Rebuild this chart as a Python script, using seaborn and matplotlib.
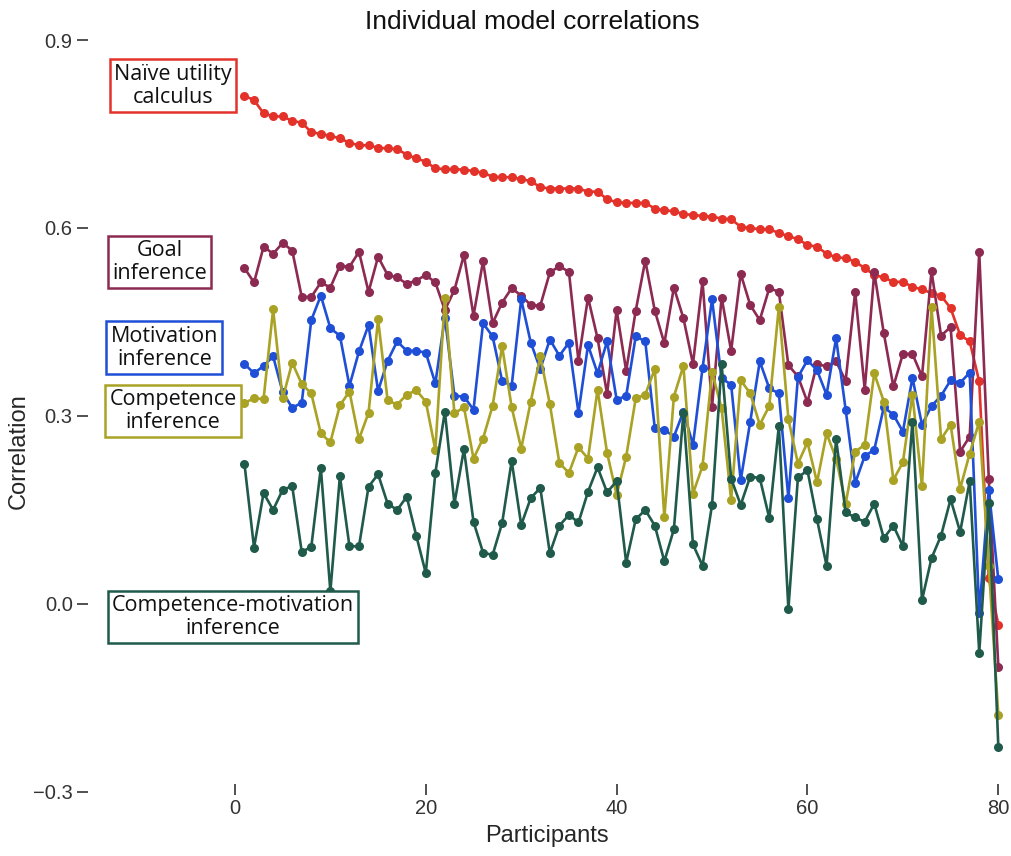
import numpy as np
import pandas as pd
import matplotlib
matplotlib.use("Agg")
import matplotlib.pyplot as plt
import seaborn as sns

participants = list(range(1, 81))

naive_utility = [0.811, 0.804, 0.783, 0.778, 0.778, 0.771, 0.768, 0.753, 0.750, 0.747,
                 0.743, 0.736, 0.732, 0.732, 0.728, 0.727, 0.726, 0.717, 0.711, 0.706,
                 0.695, 0.694, 0.694, 0.693, 0.691, 0.688, 0.682, 0.681, 0.681, 0.678,
                 0.675, 0.665, 0.663, 0.663, 0.663, 0.663, 0.658, 0.658, 0.646, 0.641,
                 0.640, 0.640, 0.640, 0.631, 0.628, 0.627, 0.622, 0.621, 0.619, 0.618,
                 0.615, 0.614, 0.602, 0.600, 0.598, 0.598, 0.592, 0.587, 0.582, 0.573,
                 0.570, 0.559, 0.553, 0.552, 0.546, 0.536, 0.525, 0.521, 0.514, 0.514,
                 0.506, 0.502, 0.496, 0.492, 0.472, 0.429, 0.419, 0.355, 0.041, -0.033]

goal_inference = [0.536, 0.513, 0.570, 0.559, 0.576, 0.564, 0.490, 0.490, 0.513, 0.505,
                  0.540, 0.538, 0.562, 0.498, 0.554, 0.525, 0.521, 0.511, 0.516, 0.525,
                  0.513, 0.469, 0.501, 0.557, 0.460, 0.547, 0.448, 0.481, 0.504, 0.492,
                  0.477, 0.476, 0.529, 0.539, 0.530, 0.388, 0.489, 0.424, 0.335, 0.469,
                  0.372, 0.468, 0.548, 0.468, 0.416, 0.505, 0.456, 0.383, 0.515, 0.315,
                  0.489, 0.404, 0.527, 0.477, 0.453, 0.504, 0.498, 0.381, 0.363, 0.322,
                  0.383, 0.379, 0.387, 0.356, 0.498, 0.342, 0.529, 0.432, 0.347, 0.399,
                  0.399, 0.363, 0.531, 0.428, 0.442, 0.243, 0.267, 0.561, 0.200, -0.100]

motivation_inference = [0.383, 0.368, 0.380, 0.395, 0.338, 0.313, 0.321, 0.453, 0.492, 0.440,
                        0.428, 0.348, 0.403, 0.445, 0.340, 0.388, 0.419, 0.404, 0.404, 0.401,
                        0.352, 0.457, 0.332, 0.331, 0.310, 0.448, 0.427, 0.356, 0.348, 0.486,
                        0.417, 0.375, 0.422, 0.396, 0.417, 0.305, 0.413, 0.368, 0.419, 0.326,
                        0.332, 0.427, 0.419, 0.280, 0.278, 0.267, 0.307, 0.254, 0.376, 0.486,
                        0.360, 0.350, 0.197, 0.291, 0.387, 0.344, 0.336, 0.169, 0.362, 0.389,
                        0.373, 0.334, 0.424, 0.310, 0.193, 0.236, 0.246, 0.314, 0.302, 0.275,
                        0.361, 0.286, 0.316, 0.332, 0.357, 0.353, 0.369, -0.015, 0.182, 0.039]

competence_inference = [0.321, 0.328, 0.327, 0.470, 0.328, 0.385, 0.351, 0.336, 0.272, 0.258,
                        0.317, 0.339, 0.263, 0.305, 0.454, 0.325, 0.318, 0.334, 0.341, 0.323,
                        0.246, 0.488, 0.304, 0.314, 0.232, 0.264, 0.316, 0.411, 0.314, 0.248,
                        0.323, 0.395, 0.319, 0.225, 0.209, 0.250, 0.232, 0.342, 0.241, 0.174,
                        0.235, 0.328, 0.334, 0.375, 0.138, 0.331, 0.380, 0.176, 0.220, 0.370,
                        0.312, 0.166, 0.357, 0.336, 0.286, 0.316, 0.474, 0.295, 0.224, 0.258,
                        0.194, 0.272, 0.232, 0.160, 0.243, 0.254, 0.368, 0.323, 0.198, 0.226,
                        0.334, 0.188, 0.474, 0.263, 0.286, 0.184, 0.240, 0.291, 0.060, -0.177]

competence_motivation = [0.223, 0.090, 0.177, 0.150, 0.182, 0.188, 0.083, 0.091, 0.217, 0.020,
                         0.204, 0.092, 0.092, 0.187, 0.207, 0.160, 0.150, 0.171, 0.109, 0.049,
                         0.209, 0.307, 0.160, 0.247, 0.131, 0.082, 0.078, 0.129, 0.228, 0.126,
                         0.169, 0.185, 0.081, 0.125, 0.142, 0.130, 0.179, 0.218, 0.178, 0.196,
                         0.066, 0.135, 0.150, 0.125, 0.068, 0.119, 0.305, 0.095, 0.061, 0.158,
                         0.383, 0.200, 0.158, 0.203, 0.201, 0.137, 0.284, -0.008, 0.202, 0.213,
                         0.135, 0.061, 0.263, 0.146, 0.138, 0.131, 0.160, 0.105, 0.125, 0.092,
                         0.291, 0.006, 0.073, 0.109, 0.167, 0.115, 0.196, -0.078, 0.161, -0.228]

model_names = ["Naïve utility calculus", "Goal inference", "Motivation inference",
               "Competence inference", "Competence-motivation inference"]
label_texts = ["Naïve utility\ncalculus", "Goal\ninference", "Motivation\ninference",
               "Competence\ninference", "Competence-motivation\ninference"]
series = [naive_utility, goal_inference, motivation_inference,
          competence_inference, competence_motivation]

colors = ["#E3322A", "#8C2A52", "#1F4FD6", "#A9A224", "#1F5A4B"]
label_pos = [(-6.5, 0.827), (-7.9, 0.546), (-7.4, 0.409), (-6.5, 0.308), (-0.2, -0.021)]

df = pd.concat([pd.DataFrame({"Participants": participants, "Correlation": v, "Model": n})
                for n, v in zip(model_names, series)], ignore_index=True)

sns.set_theme(style="white")
plt.rcParams["font.family"] = ["Liberation Sans", "DejaVu Sans"]

fig = plt.figure(figsize=(10.11, 8.56), dpi=100)
ax = fig.add_axes([88 / 1011, 61 / 856, 917 / 1011, 765 / 856])

sns.lineplot(data=df, x="Participants", y="Correlation", hue="Model",
             hue_order=model_names, palette=dict(zip(model_names, colors)),
             marker="o", markersize=6.5, markeredgewidth=0, linewidth=1.9,
             legend=False, ax=ax, estimator=None, sort=False)

ax.set_xlim(-15.4, 80.7)
ax.set_ylim(-0.305, 0.916)
ax.set_xticks([0, 20, 40, 60, 80])
ax.set_yticks([-0.3, 0.0, 0.3, 0.6, 0.9])
ax.set_yticklabels(["\u22120.3", "0.0", "0.3", "0.6", "0.9"])
for s in ax.spines.values():
    s.set_visible(False)
ax.tick_params(axis="y", direction="out", length=8, width=1.2, color="#333333",
               labelsize=14.5, labelcolor="#333333", pad=3, left=True)
ax.tick_params(axis="x", direction="in", length=8, width=1.2, color="#333333",
               labelsize=14.5, labelcolor="#333333", pad=3, bottom=True)

ax.set_xlabel("Participants", fontsize=17, labelpad=5)
ax.set_ylabel("Correlation", fontsize=17)
ax.yaxis.set_label_coords(-0.064, 0.45)
fig.text(532 / 1011, 1 - 22 / 856, "Individual model correlations", fontsize=19,
         ha="center", va="center", color="#111111")

for txt, (lx, ly), c in zip(label_texts, label_pos, colors):
    ax.text(lx, ly, txt, ha="center", va="center", fontsize=15.5,
            family=["Open Sans", "DejaVu Sans"], color="#111111", linespacing=1.12,
            bbox=dict(boxstyle="square,pad=0.2", facecolor="white", edgecolor=c, linewidth=1.8),
            zorder=5)

fig.savefig("out.png", dpi=100, facecolor="white")
